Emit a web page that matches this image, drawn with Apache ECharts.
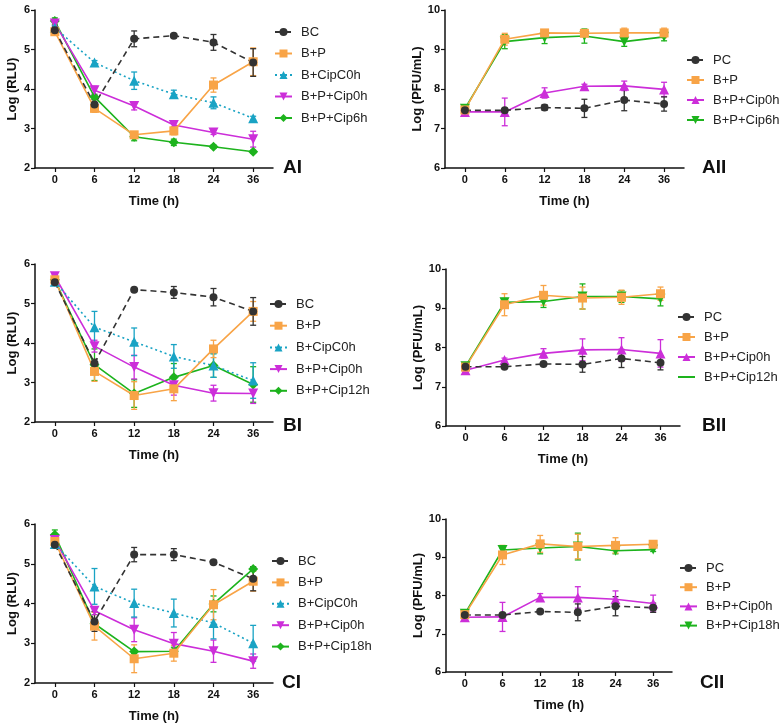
<!DOCTYPE html>
<html><head><meta charset="utf-8">
<script src="https://cdn.jsdelivr.net/npm/echarts@6/dist/echarts.min.js"></script>
<style>html,body{margin:0;padding:0;background:#fff}#c{width:782px;height:728px}</style>
</head><body><div id="c"></div>
<script>
const TIME = ['0','6','12','18','24','36'];

// Panel AI
const AI_BC = [5.49, 3.61, 5.27, 5.35, 5.18, 4.67];
const AI_BC_ERR = [0.08, 0.12, 0.2, 0.05, 0.2, 0.35];
const AI_BP = [5.45, 3.51, 2.84, 2.94, 4.10, 4.69];
const AI_BP_ERR = [0.06, 0.1, 0.08, 0.1, 0.18, 0.35];
const AI_CIPC0H = [5.55, 4.67, 4.21, 3.87, 3.65, 3.26];
const AI_CIPC0H_ERR = [0.05, 0.05, 0.22, 0.1, 0.15, 0.05];
const AI_CIP0H = [5.66, 3.97, 3.57, 3.09, 2.90, 2.73];
const AI_CIP0H_ERR = [0.05, 0.1, 0.1, 0.05, 0.05, 0.2];
const AI_CIP6H = [5.72, 3.80, 2.79, 2.65, 2.54, 2.41];
const AI_CIP6H_ERR = [0.08, 0.05, 0.1, 0.08, 0.04, 0.04];

// Panel AII
const AII_PC = [7.46, 7.46, 7.53, 7.51, 7.72, 7.62];
const AII_PC_ERR = [0.03, 0.03, 0.07, 0.23, 0.27, 0.18];
const AII_BP = [7.47, 9.26, 9.42, 9.41, 9.42, 9.42];
const AII_BP_ERR = [0.03, 0.15, 0.08, 0.08, 0.12, 0.12];
const AII_CIP0H = [7.42, 7.42, 7.90, 8.07, 8.08, 7.99];
const AII_CIP0H_ERR = [0.05, 0.35, 0.13, 0.05, 0.12, 0.18];
const AII_CIP6H = [7.50, 9.20, 9.30, 9.34, 9.20, 9.32];
const AII_CIP6H_ERR = [0.03, 0.18, 0.15, 0.18, 0.12, 0.1];

// Panel BI
const BI_BC = [5.54, 3.49, 5.35, 5.28, 5.16, 4.80];
const BI_BC_ERR = [0.05, 0.1, 0.03, 0.15, 0.22, 0.35];
const BI_BP = [5.60, 3.28, 2.67, 2.84, 3.85, 4.80];
const BI_BP_ERR = [0.05, 0.25, 0.35, 0.3, 0.22, 0.25];
const BI_CIPC0H = [5.55, 4.40, 4.03, 3.66, 3.43, 3.05];
const BI_CIPC0H_ERR = [0.05, 0.4, 0.35, 0.3, 0.3, 0.45];
const BI_CIP0H = [5.69, 3.92, 3.39, 2.93, 2.73, 2.72];
const BI_CIP0H_ERR = [0.05, 0.15, 0.3, 0.25, 0.2, 0.25];
const BI_CIP12H = [5.60, 3.45, 2.72, 3.13, 3.43, 2.95];
const BI_CIP12H_ERR = [0.12, 0.4, 0.35, 0.35, 0.3, 0.45];

// Panel BII
const BII_PC = [7.51, 7.51, 7.58, 7.57, 7.72, 7.61];
const BII_PC_ERR = [0.03, 0.03, 0.03, 0.2, 0.23, 0.18];
const BII_BP = [7.50, 9.09, 9.33, 9.26, 9.28, 9.37];
const BII_BP_ERR = [0.05, 0.28, 0.25, 0.28, 0.18, 0.17];
const BII_CIP0H = [7.42, 7.68, 7.85, 7.94, 7.95, 7.85];
const BII_CIP0H_ERR = [0.05, 0.05, 0.12, 0.28, 0.3, 0.35];
const BII_CIP12H = [7.52, 9.15, 9.17, 9.30, 9.30, 9.24];
const BII_CIP12H_ERR = [0.05, 0.1, 0.15, 0.32, 0.15, 0.18];

// Panel CI
const CI_BC = [5.48, 3.55, 5.23, 5.23, 5.04, 4.62];
const CI_BC_ERR = [0.08, 0.25, 0.18, 0.15, 0.05, 0.3];
const CI_BP = [5.56, 3.43, 2.61, 2.75, 3.97, 4.56];
const CI_BP_ERR = [0.08, 0.35, 0.35, 0.2, 0.38, 0.25];
const CI_CIPC0H = [5.50, 4.43, 4.01, 3.76, 3.51, 3.00];
const CI_CIPC0H_ERR = [0.05, 0.45, 0.35, 0.35, 0.4, 0.45];
const CI_CIP0H = [5.60, 3.82, 3.34, 2.99, 2.80, 2.55];
const CI_CIP0H_ERR = [0.05, 0.1, 0.3, 0.28, 0.28, 0.18];
const CI_CIP18H = [5.73, 3.49, 2.79, 2.80, 3.99, 4.87];
const CI_CIP18H_ERR = [0.12, 0.1, 0.05, 0.1, 0.2, 0.05];

// Panel CII
const CII_PC = [7.49, 7.49, 7.58, 7.56, 7.72, 7.68];
const CII_PC_ERR = [0.03, 0.03, 0.03, 0.22, 0.25, 0.12];
const CII_BP = [7.50, 9.06, 9.35, 9.28, 9.31, 9.34];
const CII_BP_ERR = [0.05, 0.25, 0.22, 0.32, 0.2, 0.05];
const CII_CIP0H = [7.43, 7.44, 7.95, 7.95, 7.90, 7.79];
const CII_CIP0H_ERR = [0.05, 0.38, 0.1, 0.28, 0.22, 0.22];
const CII_CIP18H = [7.52, 9.19, 9.24, 9.28, 9.17, 9.20];
const CII_CIP18H_ERR = [0.05, 0.05, 0.15, 0.35, 0.08, 0.05];

const FONT = '"Liberation Sans", Arial, sans-serif';
const INV_TRI = 'path://M0,0 L10,0 L5,9 Z';
const STYLES = {
  black:   {color:'#333333', symbol:'circle', size:8, type:[6,4], width:1.6},
  orange:  {color:'#F8A447', symbol:'rect', size:9, type:'solid', width:1.6},
  cyan:    {color:'#19A3C4', symbol:'triangle', size:10, type:[2,3], width:1.6},
  magDown: {color:'#CC2ED9', symbol:INV_TRI, size:10, type:'solid', width:1.6},
  magUp:   {color:'#CC2ED9', symbol:'triangle', size:10, type:'solid', width:1.6},
  greenDia:{color:'#1DB31D', symbol:'diamond', size:10, type:'solid', width:1.6},
  greenDown:{color:'#1DB31D', symbol:INV_TRI, size:10, type:'solid', width:1.6}
};

const PANELS = [
  {id:'AI', grid:{left:35, top:10, width:238, height:158}, ymin:2, ymax:6, yname:'Log (RLU)',
   legend:{left:274, top:25.5, gap:8.5}, label:{x:283, y:158},
   series:[
    ['BC', AI_BC, AI_BC_ERR, 'black'], ['B+P', AI_BP, AI_BP_ERR, 'orange'],
    ['B+CipC0h', AI_CIPC0H, AI_CIPC0H_ERR, 'cyan'], ['B+P+Cip0h', AI_CIP0H, AI_CIP0H_ERR, 'magDown'],
    ['B+P+Cip6h', AI_CIP6H, AI_CIP6H_ERR, 'greenDia']]},
  {id:'AII', grid:{left:445, top:10, width:239, height:158}, ymin:6, ymax:10, yname:'Log (PFU/mL)',
   legend:{left:686, top:53.5, gap:7}, label:{x:702, y:158},
   series:[
    ['PC', AII_PC, AII_PC_ERR, 'black'], ['B+P', AII_BP, AII_BP_ERR, 'orange'],
    ['B+P+Cip0h', AII_CIP0H, AII_CIP0H_ERR, 'magUp'], ['B+P+Cip6h', AII_CIP6H, AII_CIP6H_ERR, 'greenDown']]},
  {id:'BI', grid:{left:35, top:264, width:238, height:158}, ymin:2, ymax:6, yname:'Log (RLU)',
   legend:{left:269, top:297.5, gap:8.7}, label:{x:283, y:416},
   series:[
    ['BC', BI_BC, BI_BC_ERR, 'black'], ['B+P', BI_BP, BI_BP_ERR, 'orange'],
    ['B+CipC0h', BI_CIPC0H, BI_CIPC0H_ERR, 'cyan'], ['B+P+Cip0h', BI_CIP0H, BI_CIP0H_ERR, 'magDown'],
    ['B+P+Cip12h', BI_CIP12H, BI_CIP12H_ERR, 'greenDia']]},
  {id:'BII', grid:{left:446, top:269, width:234, height:157}, ymin:6, ymax:10, yname:'Log (PFU/mL)',
   legend:{left:677, top:310.5, gap:7}, label:{x:702, y:416}, lineOnly:'B+P+Cip12h',
   series:[
    ['PC', BII_PC, BII_PC_ERR, 'black'], ['B+P', BII_BP, BII_BP_ERR, 'orange'],
    ['B+P+Cip0h', BII_CIP0H, BII_CIP0H_ERR, 'magUp'], ['B+P+Cip12h', BII_CIP12H, BII_CIP12H_ERR, 'greenDown']]},
  {id:'CI', grid:{left:35, top:524, width:238, height:159}, ymin:2, ymax:6, yname:'Log (RLU)',
   legend:{left:271, top:554.5, gap:8.4}, label:{x:282, y:673},
   series:[
    ['BC', CI_BC, CI_BC_ERR, 'black'], ['B+P', CI_BP, CI_BP_ERR, 'orange'],
    ['B+CipC0h', CI_CIPC0H, CI_CIPC0H_ERR, 'cyan'], ['B+P+Cip0h', CI_CIP0H, CI_CIP0H_ERR, 'magDown'],
    ['B+P+Cip18h', CI_CIP18H, CI_CIP18H_ERR, 'greenDia']]},
  {id:'CII', grid:{left:446, top:519, width:226, height:153}, ymin:6, ymax:10, yname:'Log (PFU/mL)',
   legend:{left:679, top:561.5, gap:6.2}, label:{x:700, y:673},
   series:[
    ['PC', CII_PC, CII_PC_ERR, 'black'], ['B+P', CII_BP, CII_BP_ERR, 'orange'],
    ['B+P+Cip0h', CII_CIP0H, CII_CIP0H_ERR, 'magUp'], ['B+P+Cip18h', CII_CIP18H, CII_CIP18H_ERR, 'greenDown']]}
];

const grid = [], xAxis = [], yAxis = [], series = [], legend = [], title = [];
const axisLine = {show:true, lineStyle:{color:'#111', width:1.5}};
PANELS.forEach((p, gi) => {
  grid.push(Object.assign({containLabel:false}, p.grid));
  xAxis.push({type:'category', gridIndex:gi, data:TIME, boundaryGap:true,
    axisLine, axisTick:{show:true, alignWithLabel:true, length:4, lineStyle:{color:'#111', width:1.2}},
    axisLabel:{fontFamily:FONT, fontWeight:'bold', fontSize:11, color:'#111', margin:6},
    name:'Time (h)', nameLocation:'middle', nameGap:27,
    nameTextStyle:{fontFamily:FONT, fontWeight:'bold', fontSize:13, color:'#111'}, splitLine:{show:false}});
  yAxis.push({type:'value', gridIndex:gi, min:p.ymin, max:p.ymax, interval:1,
    axisLine, axisTick:{show:true, length:4, lineStyle:{color:'#111', width:1.2}},
    axisLabel:{fontFamily:FONT, fontWeight:'bold', fontSize:11, color:'#111', margin:5},
    name:p.yname, nameLocation:'middle', nameRotate:90, nameGap:p.ymin===2?16:17,
    nameTextStyle:{fontFamily:FONT, fontWeight:'bold', fontSize:13, color:'#111'}, splitLine:{show:false}});
  const legendData = [];
  const reversed = p.series.slice().reverse();
  reversed.forEach(([name, vals, errs, sk]) => {
    const st = STYLES[sk];
    const uname = name + '|' + p.id;
    series.push({type:'custom', name:'err|' + uname, xAxisIndex:gi, yAxisIndex:gi, silent:true, z:2,
      data: vals.map((v, i) => [i, v - errs[i], v + errs[i]]),
      renderItem: (params, api) => {
        const lo = api.coord([api.value(0), api.value(1)]);
        const hi = api.coord([api.value(0), api.value(2)]);
        const style = {stroke: st.color, lineWidth: 1.3};
        return {type:'group', children:[
          {type:'line', shape:{x1:lo[0], y1:lo[1], x2:hi[0], y2:hi[1]}, style},
          {type:'line', shape:{x1:lo[0]-3, y1:lo[1], x2:lo[0]+3, y2:lo[1]}, style},
          {type:'line', shape:{x1:hi[0]-3, y1:hi[1], x2:hi[0]+3, y2:hi[1]}, style}
        ]};
      }});
    series.push({type:'line', name:uname, xAxisIndex:gi, yAxisIndex:gi, data:vals, z:3,
      symbol:st.symbol, symbolSize:st.size, showAllSymbol:true,
      lineStyle:{color:st.color, width:st.width, type:st.type},
      itemStyle:{color:st.color, borderWidth:0}, animation:false});
  });
  p.series.forEach(([name]) => {
    const uname = name + '|' + p.id;
    if (p.lineOnly === name) legendData.push({name:uname, itemStyle:{opacity:0}});
    else legendData.push(uname);
  });
  legend.push({orient:'vertical', left:p.legend.left, top:p.legend.top, padding:0, itemWidth:17, itemHeight:10,
    itemGap:p.legend.gap, data:legendData, selectedMode:false,
    formatter: n => n.split('|')[0],
    textStyle:{fontFamily:FONT, fontSize:13, color:'#222', padding:[0,0,0,4]}});
  title.push({text:p.id, left:p.label.x, top:p.label.y, padding:0,
    textStyle:{fontFamily:FONT, fontWeight:'bold', fontSize:19, color:'#111'}});
});

const chart = echarts.init(document.getElementById('c'), null, {renderer:'canvas'});
chart.setOption({backgroundColor:'#ffffff', animation:false, grid, xAxis, yAxis, series, legend, title});
</script></body></html>
